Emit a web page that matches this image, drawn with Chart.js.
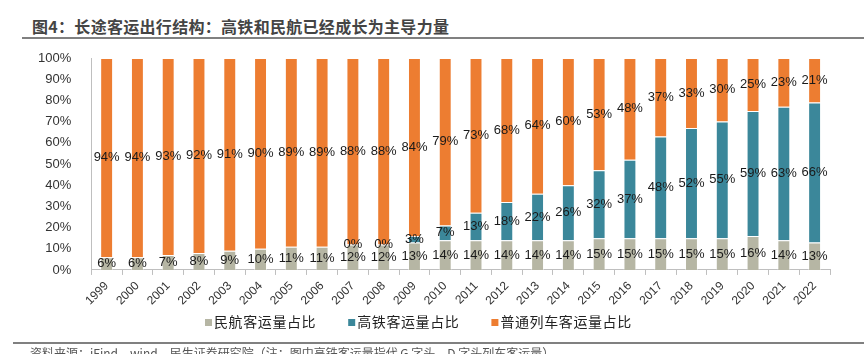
<!DOCTYPE html>
<html>
<head>
<meta charset="utf-8">
<script src="https://cdn.jsdelivr.net/npm/chart.js@4/dist/chart.umd.min.js"></script>
<style>
  body { margin: 0; background: #fff; }
  #wrap { position: relative; width: 864px; height: 354px; overflow: hidden; }
  #title { position: absolute; left: 32px; top: 14px; font: bold 16px "Noto Sans CJK SC"; color: #444; letter-spacing: 0.3px; }
  #topline { position: absolute; left: 22px; right: 0; top: 37px; height: 2px; background: #808080; }
  #botline { position: absolute; left: 13px; right: 0; top: 342px; height: 2px; background: #808080; }
  #source { position: absolute; left: 30px; top: 344px; font: 12px "Noto Sans CJK SC"; color: #555; white-space: nowrap; }
  canvas { position: absolute; left: 0; top: 0; }
</style>
</head>
<body>
<div id="wrap">
  <div id="title">图4：长途客运出行结构：高铁和民航已经成长为主导力量</div>
  <div id="topline"></div>
  <canvas id="chart" width="864" height="354"></canvas>
  <div id="botline"></div>
  <div id="source">资料来源：iFind，wind，民生证券研究院（注：图中高铁客运量指代 G 字头、D 字头列车客运量）</div>
</div>
<script>
// data (percent of long distance passenger volume)
const years = ['1999', '2000', '2001', '2002', '2003', '2004', '2005', '2006', '2007', '2008', '2009', '2010',
               '2011', '2012', '2013', '2014', '2015', '2016', '2017', '2018', '2019', '2020', '2021', '2022'];
const airShare = [6, 6, 7, 8, 9, 10, 11, 11, 12, 12, 13, 14, 14, 14, 14, 14, 15, 15, 15, 15, 15, 16, 14, 13];
const hsrShare = [null, null, null, null, null, null, null, null, 0, 0, 3, 7, 13, 18, 22, 26, 32, 37, 48, 52, 55, 59, 63, 66];
const railShare = [94, 94, 93, 92, 91, 90, 89, 89, 88, 88, 84, 79, 73, 68, 64, 60, 53, 48, 37, 33, 30, 25, 23, 21];
const yTicks = [0, 10, 20, 30, 40, 50, 60, 70, 80, 90, 100];

// labels in the middle of each segment
const segmentLabels = {
    id: 'segmentLabels',
    afterDatasetsDraw(chart) {
        const ctx = chart.ctx;
        ctx.save();
        ctx.font = '13px "Liberation Sans"';
        ctx.fillStyle = '#1a1a1a';
        ctx.textAlign = 'center';
        ctx.textBaseline = 'middle';
        chart.data.datasets.forEach((ds, i) => {
            const meta = chart.getDatasetMeta(i);
            meta.data.forEach((bar, j) => {
                const v = ds.data[j];
                if (v === null || v === undefined) return;
                ctx.fillText(v + '%', bar.x, (bar.y + bar.base) / 2);
            });
        });
        ctx.restore();
    }
};

// excel-like legend: small squares, wide gaps, a bit left of centre
const bottomLegend = {
    id: 'bottomLegend',
    afterDraw(chart) {
        const ctx = chart.ctx;
        ctx.save();
        ctx.font = '14px "Noto Sans CJK SC"';
        ctx.letterSpacing = '0.6px';
        ctx.textBaseline = 'middle';
        let x = 205;
        const y = 322;
        chart.data.datasets.forEach(ds => {
            ctx.fillStyle = ds.backgroundColor;
            ctx.fillRect(x, y - 3, 7, 7);
            ctx.fillStyle = '#222';
            ctx.fillText(ds.label, x + 9, y);
            x += 9 + ctx.measureText(ds.label).width + 32;
        });
        ctx.restore();
    }
};

const ctx = document.getElementById('chart').getContext('2d');
new Chart(ctx, {
    type: 'bar',
    data: {
        labels: years,
        datasets: [
            { label: '民航客运量占比', data: airShare, backgroundColor: '#B6B6A4' },
            { label: '高铁客运量占比', data: hsrShare, backgroundColor: '#3B879A' },
            { label: '普通列车客运量占比', data: railShare, backgroundColor: '#ED7D31' }
        ].map(d => Object.assign(d, {
            borderColor: 'rgba(255,255,255,0.45)',
            borderWidth: { left: 1, right: 1, top: 1, bottom: 0 },
            barPercentage: 0.42,
            categoryPercentage: 1
        }))
    },
    options: {
        responsive: false,
        animation: false,
        layout: { padding: { left: 26, right: 34, top: 58, bottom: 42 } },
        scales: {
            x: {
                stacked: true,
                grid: { display: true, drawOnChartArea: false, offset: true, tickLength: 5, color: '#bfbfbf' },
                border: { color: '#bfbfbf' },
                ticks: { minRotation: 45, maxRotation: 45, font: { family: 'Liberation Sans', size: 12 }, color: '#333', padding: 4 }
            },
            y: {
                stacked: true,
                min: 0,
                max: 100,
                afterBuildTicks: axis => { axis.ticks = yTicks.map(v => ({ value: v })); },
                grid: { display: false },
                border: { color: '#bfbfbf' },
                ticks: { callback: v => v + '%', font: { family: 'Liberation Sans', size: 13 }, color: '#333', padding: 12 }
            }
        },
        plugins: {
            legend: { display: false },
            tooltip: { enabled: false }
        }
    },
    plugins: [segmentLabels, bottomLegend]
});
</script>
</body>
</html>
